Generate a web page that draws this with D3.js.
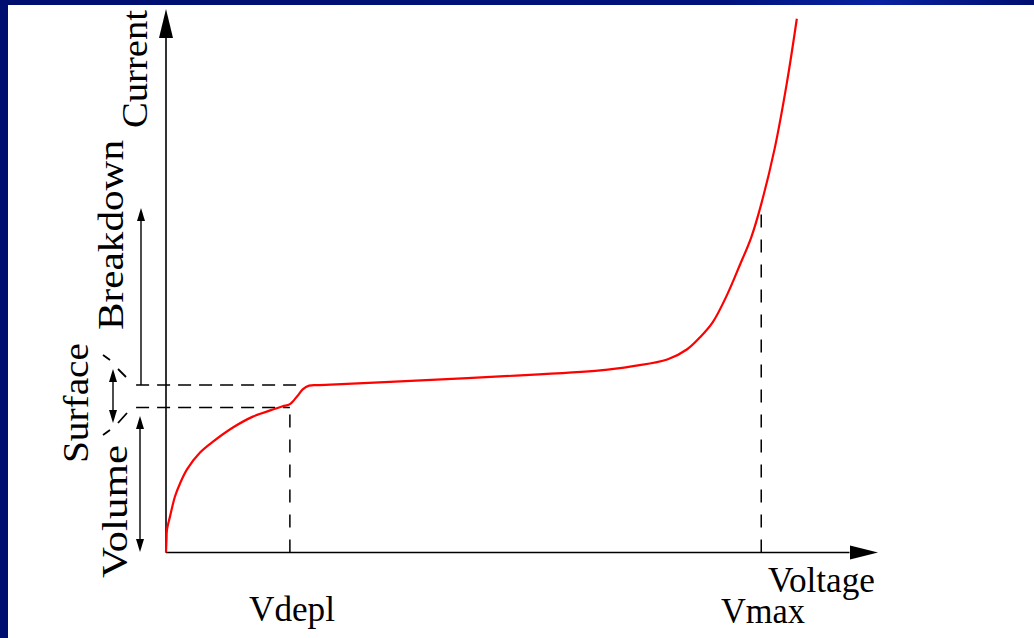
<!DOCTYPE html>
<html><head><meta charset="utf-8">
<script src="https://cdn.jsdelivr.net/npm/d3@7"></script>
<style>html,body{margin:0;padding:0;background:#fff;overflow:hidden}</style>
</head><body>
<svg id="c" width="1034" height="638"></svg>
<script>
// Voltage (arbitrary units 0..100 along axis) and current (arbitrary units)
const voltage = [0, 0.07, 0.14, 0.56, 1.26, 1.97, 2.95, 4.78, 6.6, 9.4, 12.2, 15.0, 16.4, 17.4, 18.4, 19.2, 20.1, 21.6, 32.9, 46.9, 61.0, 65.6, 70.4, 73.2, 75.0, 76.8, 78.8, 80.6, 82.2, 83.6, 85.5, 87.2, 88.6];
const current = [0, 2.4, 4.2, 6.6, 10.3, 12.7, 15.3, 18.4, 20.4, 23.0, 25.0, 26.3, 26.9, 27.3, 28.7, 30.0, 30.7, 30.8, 31.5, 32.4, 33.5, 34.3, 35.5, 37.4, 39.6, 42.4, 47.4, 52.9, 58.0, 64.1, 74.4, 86.4, 98.2];
const markers = ["Vdepl", "Vmax"];
const markerVoltage = [17.4, 83.6];
const levelNames = ["Surface level", "Volume level"];
const levelCurrent = [30.8, 26.7];
const levelEnd = [19.2, 17.4];
const axisTitles = ["Voltage", "Current"];
const regionLabels = ["Breakdown", "Surface", "Volume"];

const svg = d3.select("#c");
const W = 1034, H = 638;
// blue frame
const defs = svg.append("defs");
const g = defs.append("linearGradient").attr("id","tb").attr("x1","0").attr("x2","1");
g.append("stop").attr("offset","0").attr("stop-color","#000f6f");
g.append("stop").attr("offset","0.7").attr("stop-color","#00137c");
g.append("stop").attr("offset","0.85").attr("stop-color","#0a22a0");
g.append("stop").attr("offset","1").attr("stop-color","#000f6f");
svg.append("rect").attr("x",0).attr("y",0).attr("width",W).attr("height",H).attr("fill","#fff");
svg.append("rect").attr("x",0).attr("y",0).attr("width",W).attr("height",5).attr("fill","url(#tb)");
svg.append("rect").attr("x",0).attr("y",0).attr("width",8).attr("height",H).attr("fill","#000f6f");

const x = d3.scaleLinear().domain([0,100]).range([166, 878]);
const y = d3.scaleLinear().domain([0,100]).range([552.5, 9]);

// axes
svg.append("line").attr("x1",x(0)).attr("x2",x(96)).attr("y1",y(0)).attr("y2",y(0)).attr("stroke","#000").attr("stroke-width",1.6);
svg.append("line").attr("x1",x(0)).attr("x2",x(0)).attr("y1",y(0)).attr("y2",y(95)).attr("stroke","#000").attr("stroke-width",1.6);
svg.append("path").attr("d",`M${x(100)},${y(0)} L${x(100)-28},${y(0)-7} L${x(100)-28},${y(0)+7} Z`).attr("fill","#000");
svg.append("path").attr("d",`M${x(0)},${y(100)} L${x(0)-7},${y(100)+29} L${x(0)+7},${y(100)+29} Z`).attr("fill","#000");

// dashed guides
const dash = "13,12";
markerVoltage.forEach((v,i)=>{
  const top = i===0 ? levelCurrent[1] : 64.1;
  svg.append("line").attr("x1",x(v)).attr("x2",x(v)).attr("y1",y(0)).attr("y2",y(top))
    .attr("stroke","#000").attr("stroke-width",1.5).attr("stroke-dasharray",dash);
});
levelCurrent.forEach((c,i)=>{
  svg.append("line").attr("x1",x(-4.2)).attr("x2",x(levelEnd[i])).attr("y1",y(c)).attr("y2",y(c))
    .attr("stroke","#000").attr("stroke-width",1.5).attr("stroke-dasharray","13,8");
});

// curve
const pts = voltage.map((v,i)=>[v,current[i]]);
svg.append("path").datum(pts)
  .attr("d", d3.line().x(d=>x(d[0])).y(d=>y(d[1])).curve(d3.curveCatmullRom.alpha(0.5)))
  .attr("fill","none").attr("stroke","#ff0000").attr("stroke-width",2.2);

// small arrows
function arrow(px, y1, y2, head1, head2){
  svg.append("line").attr("x1",px).attr("x2",px).attr("y1",y1+(head1?6:0)).attr("y2",y2-(head2?6:0)).attr("stroke","#000").attr("stroke-width",1.4);
  if(head1) svg.append("path").attr("d",`M${px},${y1} L${px-4},${y1+13} L${px+4},${y1+13} Z`).attr("fill","#000");
  if(head2) svg.append("path").attr("d",`M${px},${y2} L${px-4},${y2-13} L${px+4},${y2-13} Z`).attr("fill","#000");
}
arrow(141, 208, 385, true, false);
arrow(140, 416, 552, true, true);
arrow(113, 369, 423, true, true);
// brace marks
[[103,355,110,360],[118,369,126,377],[118,423,127,413],[103,435,110,430]].forEach(m=>{
  svg.append("line").attr("x1",m[0]).attr("y1",m[1]).attr("x2",m[2]).attr("y2",m[3]).attr("stroke","#000").attr("stroke-width",1.8);
});

// texts
const font = "'Liberation Serif','Times New Roman',serif";
function htext(t, px, py, len){
  svg.append("text").attr("x",px).attr("y",py).text(t).attr("font-family",font).attr("font-size",36)
    .attr("textLength",len).attr("lengthAdjust","spacingAndGlyphs").attr("fill","#000");
}
function vtext(t, px, py, len){
  svg.append("text").attr("transform",`translate(${px},${py}) rotate(-90)`).text(t)
    .attr("font-family",font).attr("font-size",36)
    .attr("textLength",len).attr("lengthAdjust","spacingAndGlyphs").attr("fill","#000");
}
htext(axisTitles[0], 768, 592, 107);
htext(markers[0], 249, 621, 86);
htext(markers[1], 721, 623, 84);
vtext(axisTitles[1], 147, 128, 118);
vtext(regionLabels[0], 123, 330, 190);
vtext(regionLabels[1], 88, 463, 120);
vtext(regionLabels[2], 127, 578, 133);
</script>
</body></html>
